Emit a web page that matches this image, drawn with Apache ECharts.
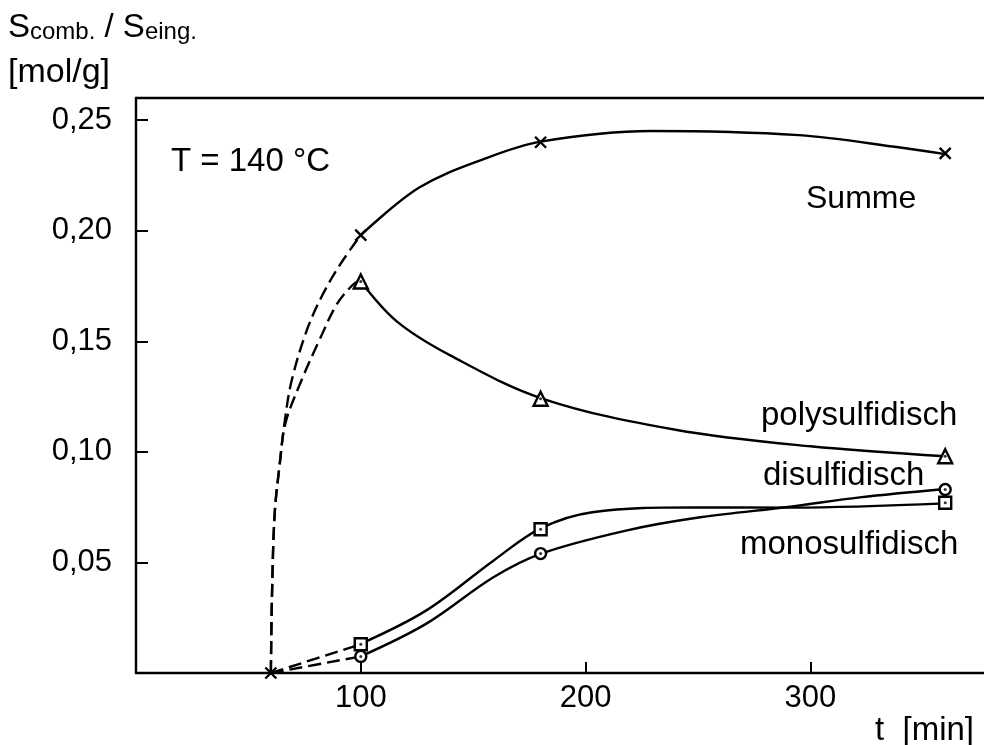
<!DOCTYPE html>
<html>
<head>
<meta charset="utf-8">
<script src="https://cdn.jsdelivr.net/npm/echarts@6/dist/echarts.min.js"></script>
<style>
  html, body { margin: 0; padding: 0; background: #fff; }
  #main { width: 984px; height: 745px; }
</style>
</head>
<body>
<div id="main"></div>
<script type="text/javascript">
// Messzeitpunkte [min]
var tMeas = [60, 100, 180, 360];
// Messwerte [mol/g]
var summeMeas = [0, 0.198, 0.240, 0.235];
var polyMeas  = [0, 0.177, 0.124, 0.098];
var diMeas    = [0, 0.0075, 0.054, 0.083];
var monoMeas  = [0, 0.013, 0.065, 0.077];

// Kurvenverlauf
var summeDash = [[60, 0], [60.5, 0.035], [61.7, 0.072], [64, 0.095], [66.2, 0.114], [69.2, 0.132], [76, 0.155], [83, 0.171], [91, 0.185], [100, 0.198]];
var summeLine = [[100, 0.198], [126, 0.2195], [155, 0.2325], [180, 0.2403], [229, 0.2451], [295, 0.2432], [340, 0.2376], [360, 0.2346]];
var polyDash  = [[60, 0], [60.5, 0.035], [61.7, 0.072], [64, 0.095], [66.5, 0.113], [73.5, 0.132], [81.8, 0.151], [89.2, 0.1665], [95.9, 0.175], [100, 0.178]];
var polyLine  = [[100, 0.177], [116, 0.159], [140, 0.1435], [181, 0.124], [240, 0.110], [300, 0.1025], [360, 0.098]];
var diDash    = [[60, 0], [100, 0.0075]];
var diLine    = [[100, 0.0075], [129, 0.0222], [159, 0.0433], [180, 0.0539], [218, 0.0644], [251, 0.0704], [291, 0.0752], [322, 0.0794], [360, 0.0832]];
var monoDash  = [[60, 0], [100, 0.013]];
var monoLine  = [[100, 0.0132], [129, 0.0282], [159, 0.0508], [180, 0.0654], [203, 0.0727], [248, 0.0749], [292, 0.0748], [360, 0.0767]];

var xTicks = [100, 200, 300];
var yTicks = [0.05, 0.10, 0.15, 0.20, 0.25];

var FONT = "'Liberation Sans', Arial, sans-serif";
var crossPath = 'path://M0,0L10,10M10,0L0,10';

function pairs(xs, ys) {
    return xs.map(function (x, i) { return [x, ys[i]]; });
}

function curve(name, data, dashed) {
    return {
        type: 'line',
        name: name,
        data: data,
        smooth: 0.35,
        symbol: 'none',
        lineStyle: { color: '#000', width: 2.4, type: dashed ? [13, 6] : 'solid' },
        z: 2
    };
}

function marks(name, data, symbol, size) {
    var cross = symbol === crossPath;
    return {
        type: 'scatter',
        name: name,
        data: data,
        symbol: symbol,
        symbolSize: size,
        itemStyle: {
            color: cross ? 'none' : '#fff',
            borderColor: '#000',
            borderWidth: 2.4,
            opacity: 1
        },
        z: 5
    };
}

// kleiner Punkt in den offenen Symbolen
function dots(data) {
    return {
        type: 'scatter',
        data: data,
        symbol: 'circle',
        symbolSize: 3,
        itemStyle: { color: '#000' },
        z: 6
    };
}

function label(text, x, y, size) {
    return {
        type: 'text',
        style: { text: text, x: x, y: y, font: (size || 33) + 'px ' + FONT, fill: '#000', verticalAlign: 'bottom' }
    };
}

var myChart = echarts.init(document.getElementById('main'));

var option = {
    animation: false,
    backgroundColor: '#fff',
    grid: { left: 136, top: 98, width: 851, height: 575, show: false, outerBoundsMode: 'none', containLabel: false },
    xAxis: [
        {
            type: 'value',
            min: 0, max: 378.6, interval: 100,
            splitLine: { show: false },
            axisLine: { show: true, lineStyle: { color: '#000', width: 2.4 } },
            axisTick: { show: true, inside: true, length: 11, lineStyle: { color: '#000', width: 2 } },
            axisLabel: {
                color: '#000', fontFamily: FONT, fontSize: 31, margin: 10,
                showMaxLabel: false,
                formatter: function (v) { return xTicks.indexOf(v) >= 0 ? String(v) : ''; }
            }
        },
        {
            type: 'value', position: 'top',
            min: 0, max: 378.6,
            splitLine: { show: false },
            axisLine: { show: true, lineStyle: { color: '#000', width: 2.4 } },
            axisTick: { show: false },
            axisLabel: { show: false }
        }
    ],
    yAxis: {
        type: 'value',
        min: 0, max: 0.26, interval: 0.05,
        splitLine: { show: false },
        axisLine: { show: true, lineStyle: { color: '#000', width: 2.4 } },
        axisTick: { show: true, inside: true, length: 12, lineStyle: { color: '#000', width: 2 } },
        axisLabel: {
            color: '#000', fontFamily: FONT, fontSize: 31, margin: 24,
            formatter: function (v) {
                for (var i = 0; i < yTicks.length; i++) {
                    if (Math.abs(v - yTicks[i]) < 1e-6) return yTicks[i].toFixed(2).replace('.', ',');
                }
                return '';
            }
        }
    },
    graphic: [
        {
            type: 'text', left: 8, top: 11,
            style: {
                text: '{a|S}{b|comb.}{a| / S}{b|eing.}',
                rich: {
                    a: { fontFamily: FONT, fontSize: 33, lineHeight: 33, verticalAlign: 'bottom', fill: '#000' },
                    b: { fontFamily: FONT, fontSize: 24, lineHeight: 33, verticalAlign: 'bottom', fill: '#000' }
                }
            }
        },
        label('[mol/g]', 8, 90, 34),
        label('T = 140 °C', 171, 178),
        label('Summe', 806, 215, 32),
        label('polysulfidisch', 761, 432),
        label('disulfidisch', 763, 492),
        label('monosulfidisch', 740, 561),
        label('t  [min]', 875, 747)
    ],
    series: [
        curve('Summe', summeDash, true),
        curve('Summe', summeLine, false),
        curve('polysulfidisch', polyDash, true),
        curve('polysulfidisch', polyLine, false),
        curve('disulfidisch', diDash, true),
        curve('disulfidisch', diLine, false),
        curve('monosulfidisch', monoDash, true),
        curve('monosulfidisch', monoLine, false),
        marks('Summe', pairs(tMeas, summeMeas), crossPath, 11),
        marks('polysulfidisch', pairs(tMeas, polyMeas).slice(1), 'triangle', 14),
        marks('disulfidisch', pairs(tMeas, diMeas).slice(1), 'circle', 11),
        marks('monosulfidisch', pairs(tMeas, monoMeas).slice(1), 'rect', 12),
        dots(pairs(tMeas, polyMeas).slice(1)),
        dots(pairs(tMeas, diMeas).slice(1)),
        dots(pairs(tMeas, monoMeas).slice(1))
    ]
};

myChart.setOption(option);
</script>
</body>
</html>
